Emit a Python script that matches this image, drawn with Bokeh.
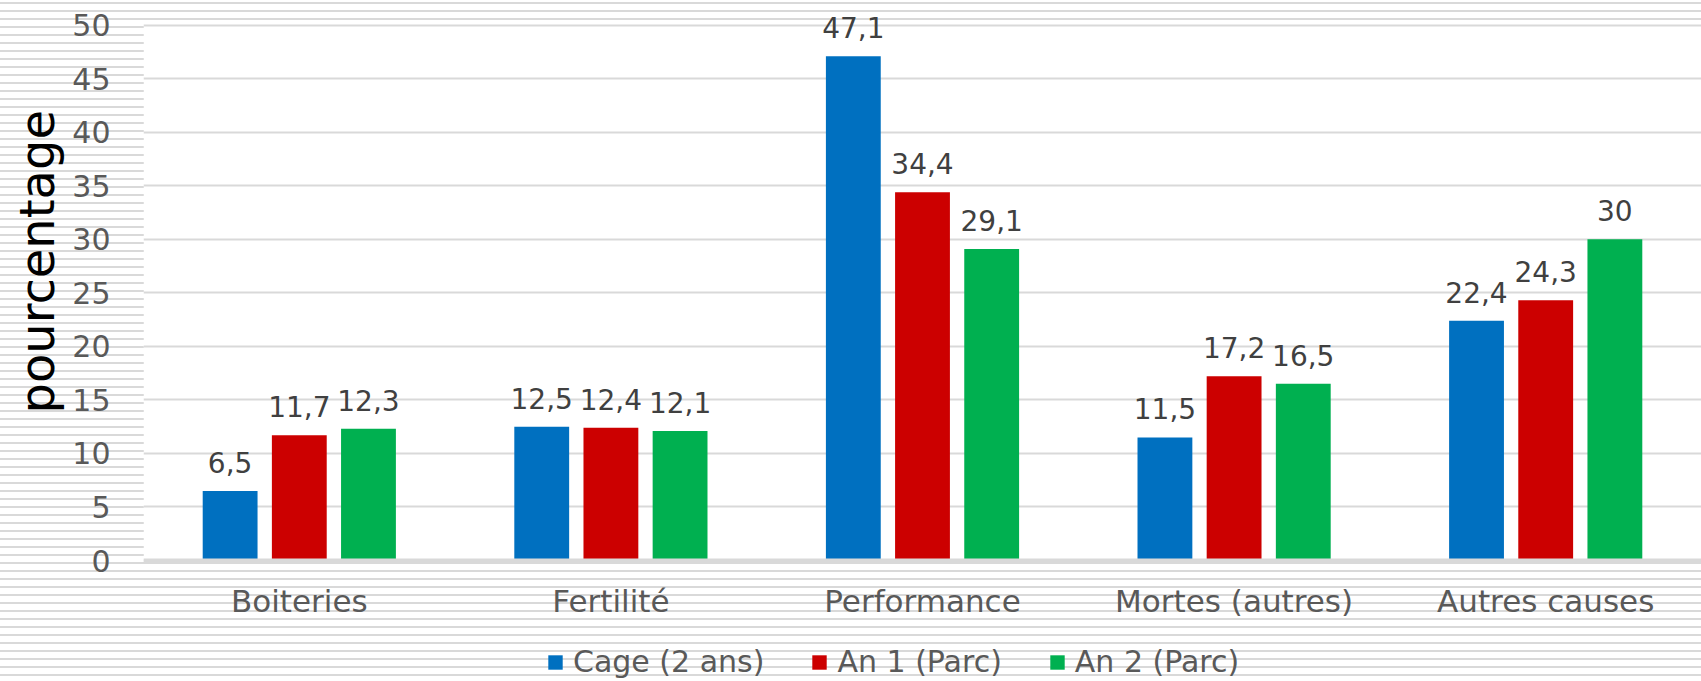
from bokeh.plotting import figure
from bokeh.models import (ColumnDataSource, FactorRange, Range1d, LabelSet, Legend, LegendItem,
                          FixedTicker, BoxAnnotation, Title, CategoricalAxis)
from bokeh.core.properties import value
from bokeh.transform import dodge
from bokeh.embed import file_html
from bokeh.resources import INLINE

categories = ["Boiteries", "Fertilité", "Performance", "Mortes (autres)", "Autres causes"]
cage = [6.5, 12.5, 47.1, 11.5, 22.4]
an1 = [11.7, 12.4, 34.4, 17.2, 24.3]
an2 = [12.3, 12.1, 29.1, 16.5, 30]
series_names = ["Cage (2 ans)", "An 1 (Parc)", "An 2 (Parc)"]
series_keys = ["cage", "an1", "an2"]
colors = ["#0070C0", "#CC0000", "#00B050"]
y_ticks = [0, 5, 10, 15, 20, 25, 30, 35, 40, 45, 50]

def fmt(v):
    return f"{v:g}".replace(".", ",")

data = dict(cat=categories, cage=cage, an1=an1, an2=an2)
for k in series_keys:
    data[k + "_lbl"] = [fmt(v) for v in data[k]]
src = ColumnDataSource(data)

FONT = "DejaVu Sans"
FRAME_W, FRAME_H = 1558, 681
PX_PER_UNIT = (560 - 24.7) / 50.0
Y_MIN = -(FRAME_H - 560) / PX_PER_UNIT
Y_MAX = 560 / PX_PER_UNIT

p = figure(
    x_range=FactorRange(*categories),
    y_range=Range1d(Y_MIN, Y_MAX),
    frame_width=FRAME_W, frame_height=FRAME_H,
    output_backend="svg", toolbar_location=None,
    x_axis_location=None,
    min_border_left=143, min_border_right=0, min_border_top=0, min_border_bottom=0,
)
p.border_fill_color = None
p.background_fill_color = None
p.outline_line_color = None
p.styles = {
    "background-color": "white",
    "background-image": "repeating-linear-gradient(to bottom, #ffffff 0px, #ffffff 2px, #d9d9d9 2px, #d9d9d9 4px, #ffffff 4px, #ffffff 8px)",
}

# white plot area (0..50)
p.add_layout(BoxAnnotation(bottom=0, top=50, fill_color="white", fill_alpha=1.0,
                           line_color=None, level="image"))

offsets = [-0.222, 0.0, 0.222]
items = []
for key, name, col, off in zip(series_keys, series_names, colors, offsets):
    r = p.vbar(x=dodge("cat", off, range=p.x_range), top=key, width=0.176, source=src,
               fill_color=col, line_color=None)
    items.append(LegendItem(label=name, renderers=[r]))
    labels = LabelSet(x=dodge("cat", off, range=p.x_range), y=key, text=key + "_lbl", source=src,
                      text_align="center", text_baseline="alphabetic", y_offset=18,
                      text_font_size="28px", text_color="#404040", text_font=value(FONT))
    p.add_layout(labels)

p.xgrid.grid_line_color = None
p.ygrid.grid_line_color = "#d9d9d9"
p.ygrid.grid_line_width = 2
p.yaxis.ticker = FixedTicker(ticks=y_ticks)
p.ygrid.ticker = FixedTicker(ticks=y_ticks)

p.yaxis.axis_line_color = None
p.yaxis.major_tick_line_color = None
p.yaxis.minor_tick_line_color = None
p.yaxis.major_tick_out = 0
p.yaxis.major_label_standoff = 33
p.yaxis.major_label_text_font_size = "30px"
p.yaxis.major_label_text_color = "#595959"
p.yaxis.major_label_text_font = FONT

ytitle = Title(text="pourcentage", align="left", offset=268, standoff=10,
               text_font_size="48px", text_font_style="normal", text_color="#000000",
               text_font=FONT)
p.add_layout(ytitle, "left")

xaxis = CategoricalAxis(fixed_location=0)
xaxis.axis_line_color = "#d9d9d9"
xaxis.axis_line_width = 4
xaxis.major_tick_line_color = None
xaxis.minor_tick_line_color = None
xaxis.major_tick_out = 0
xaxis.major_tick_in = 0
xaxis.major_label_standoff = 22
xaxis.major_label_text_font_size = "31px"
xaxis.major_label_text_color = "#595959"
xaxis.major_label_text_font = FONT
p.add_layout(xaxis, "below")

legend = Legend(items=items, orientation="horizontal", location=(403, 2),
                glyph_width=18, glyph_height=18, label_standoff=9, spacing=46,
                padding=0, margin=0, border_line_color=None, background_fill_alpha=0,
                label_text_font_size="30px", label_text_color="#595959", label_text_font=FONT)
p.add_layout(legend, "center")

open("out.html", "w").write(file_html(p, INLINE))
